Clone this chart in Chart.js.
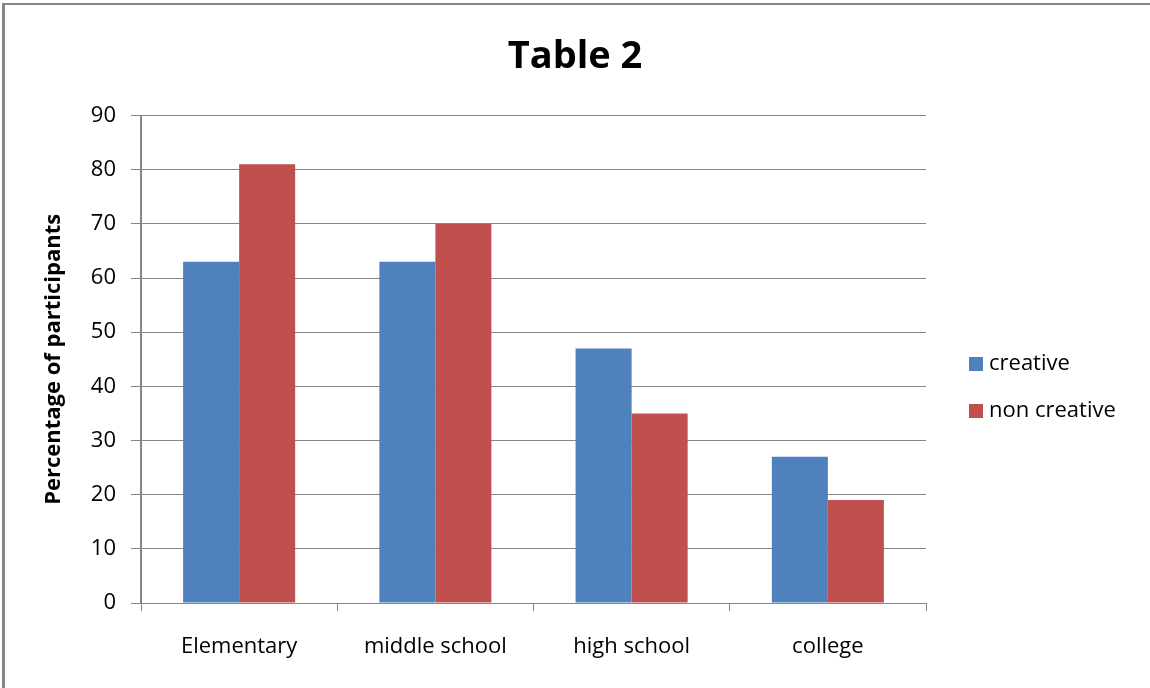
<!DOCTYPE html>
<html>
<head>
<meta charset="utf-8">
<script src="https://cdn.jsdelivr.net/npm/chart.js@4.4.1/dist/chart.umd.min.js"></script>
<style>
  body { margin: 0; background: #fff; }
  #frame { position: absolute; left: 2px; top: 3px; width: 1200px; height: 720px;
           border-left: 3px solid #868686; border-top: 2px solid #868686; }
  #chart { position: absolute; left: 0; top: 0; }
</style>
</head>
<body>
<div id="frame"></div>
<canvas id="chart" width="1150" height="688"></canvas>
<script>
// Table 2 data
const categories = ['Elementary', 'middle school', 'high school', 'college'];
const creative = [63, 63, 47, 27];
const nonCreative = [81, 70, 35, 19];
const seriesNames = ['creative', 'non creative'];

const gridGray = '#868686';
Chart.defaults.font.family = "'Open Sans', sans-serif";
Chart.defaults.color = '#000';

// simple legend on the right, like the Excel one
const sideLegend = {
  id: 'sideLegend',
  afterDraw(chart) {
    const ctx = chart.ctx;
    ctx.save();
    ctx.font = "22px 'Open Sans', sans-serif";
    ctx.textBaseline = 'middle';
    chart.data.datasets.forEach((ds, i) => {
      const y = 364 + i * 47;
      ctx.fillStyle = ds.backgroundColor;
      ctx.fillRect(969, y - 7, 14, 14);
      ctx.fillStyle = '#000';
      ctx.fillText(ds.label, 989, y);
    });
    ctx.restore();
  }
};

const ctx = document.getElementById('chart').getContext('2d');
const chart = new Chart(ctx, {
  type: 'bar',
  data: {
    labels: categories,
    datasets: [{
      label: seriesNames[0],
      data: creative,
      backgroundColor: '#4F81BD'
    }, {
      label: seriesNames[1],
      data: nonCreative,
      backgroundColor: '#C0504D'
    }]
  },
  options: {
    responsive: false,
    animation: false,
    layout: { padding: 0 },
    datasets: { bar: { categoryPercentage: 0.571, barPercentage: 1.0 } },
    plugins: {
      legend: { display: false },
      tooltip: { enabled: false },
      title: {
        display: true,
        text: 'Table 2',
        font: { size: 38, weight: 'bold' },
        padding: { top: 34, bottom: 36 }
      }
    },
    scales: {
      x: {
        grid: { drawOnChartArea: false, color: gridGray, tickLength: 8, offset: true },
        border: { color: gridGray },
        ticks: { font: { size: 22 }, padding: 23 },
        afterFit: s => { s.height = 85; }
      },
      y: {
        min: 0,
        max: 90,
        ticks: { stepSize: 10, font: { size: 22 }, padding: 15 },
        grid: { color: gridGray, tickLength: 10 },
        border: { color: gridGray, width: 2 },
        title: {
          display: true,
          text: 'Percentage of participants',
          font: { size: 22, weight: 'bold' },
          padding: { top: 41, bottom: 0 }
        },
        afterFit: s => { s.width = 141; }
      },
      // empty right-hand box that leaves room for the legend
      legendSpace: {
        type: 'linear',
        position: 'right',
        display: true,
        grid: { display: false },
        border: { display: false },
        ticks: { display: false },
        afterFit: s => { s.width = 224; }
      }
    }
  },
  plugins: [sideLegend]
});
</script>
</body>
</html>
